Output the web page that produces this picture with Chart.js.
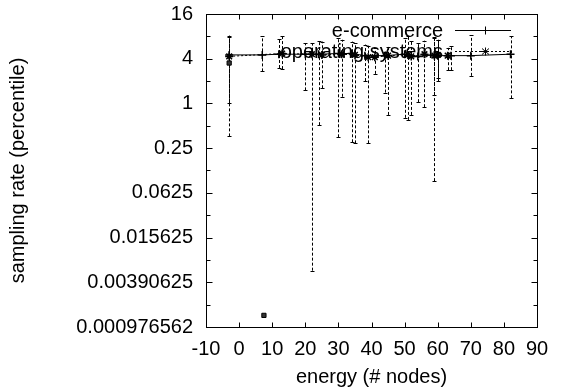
<!DOCTYPE html>
<html>
<head>
<meta charset="utf-8">
<script src="https://cdn.jsdelivr.net/npm/chart.js@4.4.1/dist/chart.umd.min.js"></script>
<style>
html, body { margin: 0; padding: 0; background: #fff; }
canvas { display: block; }
</style>
</head>
<body>
<canvas id="chart" width="561" height="389"></canvas>
<script>
// e-commerce series (solid line, + marks)
const ecomX    = [-3, 7, 12, 20, 24, 30, 34, 38, 44, 50, 54, 59, 60, 64, 70, 82];
const ecomY    = [4.5, 4.5, 4.6, 4.6, 4.6, 4.7, 4.7, 4.4, 4.4, 4.6, 4.3, 4.5, 4.4, 4.4, 4.4, 4.6];
const ecomLow  = [0.36, 2.7, 3.0, 1.5, 0.51, 0.35, 0.30, 2.0, 1.4, 0.64, 1.04, 0.09, 2.2, 2.8, 2.35, 1.17];
const ecomHigh = [7.9, 8.0, 7.3, 6.5, 7.0, 7.6, 6.8, 6.2, 5.0, 7.6, 6.5, 7.5, 7.2, 6.0, 8.3, 8.0];

// operating systems series (dotted line, * marks)
const osX    = [-3, 13, 22, 25, 31, 35, 39, 41, 45, 51, 52, 56, 59, 60, 63];
const osY    = [4.3, 4.7, 4.6, 4.5, 4.6, 4.5, 4.2, 4.2, 4.4, 4.5, 4.3, 4.6, 4.4, 4.5, 4.4];
const osLow  = [1.0, 2.9, 0.0056, 1.6, 1.23, 0.29, 0.29, 2.5, 0.7, 0.6, 0.7, 0.89, 1.3, 2.0, 2.8];
const osHigh = [8.2, 8.0, 6.5, 6.8, 7.2, 6.5, 6.0, 5.5, 5.8, 8.0, 7.0, 7.0, 7.8, 7.2, 5.6];

// untitled square points
const sqX = [-3, 7.5];
const sqY = [3.5, 0.0014];

const xTickValues = [-10, 0, 10, 20, 30, 40, 50, 60, 70, 80, 90];
const yTickValues = [16, 4, 1, 0.25, 0.0625, 0.015625, 0.00390625, 0.0009765625];
const yTickLabels = ["16", "4", "1", "0.25", "0.0625", "0.015625", "0.00390625", "0.000976562"];
const yMinorTicks = [8, 2, 0.5, 0.125, 0.03125, 0.0078125, 0.001953125];

const seriesNames = ["e-commerce", "operating systems"];

function toPoints(xs, ys) {
    return xs.map((x, i) => ({ x: x, y: ys[i] }));
}

Chart.defaults.font.family = '"Liberation Sans", Arial, sans-serif';
Chart.defaults.font.size = 20;
Chart.defaults.color = '#000';

const gnuplotLook = {
    id: 'gnuplotLook',
    beforeDatasetsDraw(chart) {
        const ctx = chart.ctx;
        const xs = chart.scales.x;
        const ys = chart.scales.y;

        // error bars
        const bars = [[ecomX, ecomLow, ecomHigh], [osX, osLow, osHigh]];
        ctx.save();
        ctx.strokeStyle = '#000';
        ctx.lineWidth = 1;
        ctx.setLineDash([3, 2]);
        bars.forEach(([bx, lo, hi]) => {
            bx.forEach((x, i) => {
                const px = Math.round(xs.getPixelForValue(x)) + 0.5;
                ctx.beginPath();
                ctx.moveTo(px, ys.getPixelForValue(lo[i]));
                ctx.lineTo(px, ys.getPixelForValue(hi[i]));
                ctx.stroke();
            });
        });
        ctx.setLineDash([]);
        bars.forEach(([bx, lo, hi]) => {
            bx.forEach((x, i) => {
                const px = Math.round(xs.getPixelForValue(x)) + 0.5;
                [lo[i], hi[i]].forEach(v => {
                    const py = Math.round(ys.getPixelForValue(v)) + 0.5;
                    ctx.beginPath();
                    ctx.moveTo(px - 2, py);
                    ctx.lineTo(px + 2, py);
                    ctx.stroke();
                });
            });
        });
        ctx.restore();
    },
    afterDraw(chart) {
        const ctx = chart.ctx;
        const xs = chart.scales.x;
        const ys = chart.scales.y;
        const left = Math.round(xs.getPixelForValue(xTickValues[0])) + 0.5;
        const right = Math.round(xs.getPixelForValue(xTickValues[xTickValues.length - 1])) + 0.5;
        const top = Math.round(ys.getPixelForValue(yTickValues[0])) + 0.5;
        const bottom = Math.round(ys.getPixelForValue(yTickValues[yTickValues.length - 1])) + 0.5;
        ctx.save();
        ctx.strokeStyle = '#000';
        ctx.lineWidth = 1;

        // border box
        ctx.strokeRect(left, top, right - left, bottom - top);

        // inward ticks
        ctx.beginPath();
        xTickValues.forEach(v => {
            const px = Math.round(xs.getPixelForValue(v)) + 0.5;
            ctx.moveTo(px, bottom); ctx.lineTo(px, bottom - 5);
            ctx.moveTo(px, top); ctx.lineTo(px, top + 5);
        });
        yTickValues.forEach(v => {
            const py = Math.round(ys.getPixelForValue(v)) + 0.5;
            ctx.moveTo(left, py); ctx.lineTo(left + 6, py);
            ctx.moveTo(right, py); ctx.lineTo(right - 6, py);
        });
        yMinorTicks.forEach(v => {
            const py = Math.round(ys.getPixelForValue(v)) + 0.5;
            ctx.moveTo(left, py); ctx.lineTo(left + 4, py);
            ctx.moveTo(right, py); ctx.lineTo(right - 4, py);
        });
        ctx.stroke();

        // legend, gnuplot style
        ctx.font = '20px "Liberation Sans", Arial, sans-serif';
        ctx.fillStyle = '#000';
        ctx.textAlign = 'right';
        ctx.textBaseline = 'middle';
        const rows = [30, 51];
        seriesNames.forEach((name, i) => {
            const y = rows[i] + 0.5;
            ctx.fillText(name, 443, rows[i] + 1);
            ctx.setLineDash(i === 0 ? [] : [2, 2]);
            ctx.beginPath();
            ctx.moveTo(455, y); ctx.lineTo(511, y);
            ctx.stroke();
            ctx.setLineDash([]);
            ctx.beginPath();
            ctx.moveTo(481, y); ctx.lineTo(489, y);
            ctx.moveTo(485.5, y - 4); ctx.lineTo(485.5, y + 4);
            if (i === 1) {
                ctx.moveTo(482, y - 3); ctx.lineTo(489, y + 3);
                ctx.moveTo(482, y + 3); ctx.lineTo(489, y - 3);
            }
            ctx.stroke();
        });
        ctx.restore();
    }
};

new Chart(document.getElementById('chart'), {
    type: 'line',
    data: {
        datasets: [{
            label: seriesNames[0],
            data: toPoints(ecomX, ecomY),
            borderColor: '#000',
            backgroundColor: '#000',
            borderWidth: 1,
            pointStyle: 'cross',
            pointRadius: 4,
            pointBorderWidth: 1.5,
            tension: 0
        }, {
            label: seriesNames[1],
            data: toPoints(osX, osY),
            borderColor: '#000',
            backgroundColor: '#000',
            borderWidth: 1,
            borderDash: [2, 2],
            pointStyle: 'star',
            pointRadius: 4,
            pointBorderWidth: 1.5,
            tension: 0
        }, {
            label: '',
            data: toPoints(sqX, sqY),
            showLine: false,
            borderColor: '#000',
            backgroundColor: '#333',
            pointStyle: 'rect',
            pointRadius: 3,
            pointBorderWidth: 1
        }]
    },
    options: {
        responsive: false,
        animation: false,
        layout: { padding: { top: 14, right: 24, left: 0, bottom: 0 } },
        plugins: {
            legend: { display: false },
            tooltip: { enabled: false }
        },
        scales: {
            x: {
                type: 'linear',
                min: -10,
                max: 90,
                grid: { display: false, drawTicks: false },
                border: { display: false },
                ticks: { stepSize: 10, padding: 10, maxRotation: 0, autoSkip: false },
                title: { display: true, text: 'energy (# nodes)', padding: { top: 0, bottom: 0 } },
                afterFit: s => {
                    s.height = 62;
                    s.paddingLeft = 0;
                    s.paddingRight = 0;
                }
            },
            y: {
                type: 'logarithmic',
                min: 0.0009765625,
                max: 16,
                grid: { display: false, drawTicks: false },
                border: { display: false },
                afterBuildTicks: s => {
                    s.ticks = yTickValues.slice().reverse().map(v => ({ value: v }));
                },
                ticks: {
                    autoSkip: false,
                    padding: 13,
                    callback: v => {
                        const i = yTickValues.findIndex(t => Math.abs(t - v) / t < 1e-6);
                        return i >= 0 ? yTickLabels[i] : '';
                    }
                },
                title: { display: true, text: 'sampling rate (percentile)', padding: { top: 6, bottom: 0 } },
                afterFit: s => {
                    s.width = 206;
                    s.paddingTop = 0;
                    s.paddingBottom = 0;
                }
            }
        }
    },
    plugins: [gnuplotLook]
});
</script>
</body>
</html>
